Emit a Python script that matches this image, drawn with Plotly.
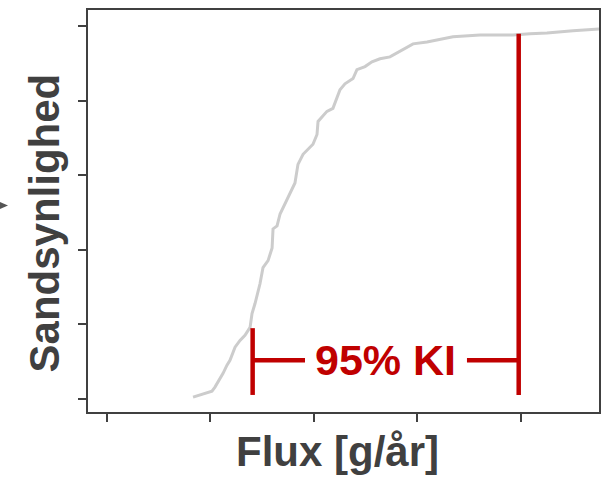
import plotly.graph_objects as go

# ECDF-like curve (arbitrary flux units, probability 0..1)
flux = [0.834, 1.017, 1.046, 1.124, 1.162, 1.191, 1.240, 1.288, 1.336, 1.385,
        1.404, 1.433, 1.481, 1.510, 1.559, 1.598, 1.607, 1.646, 1.675, 1.723,
        1.771, 1.819, 1.848, 1.897, 1.993, 2.032, 2.042, 2.128, 2.186, 2.225,
        2.254, 2.302, 2.380, 2.418, 2.496, 2.563, 2.641, 2.737, 2.786, 2.902,
        2.960, 3.095, 3.221, 3.346, 3.607, 3.926, 4.090, 4.254, 4.505, 4.757]
prob = [0.005, 0.021, 0.032, 0.069, 0.091, 0.104, 0.139, 0.157, 0.171, 0.192,
        0.229, 0.256, 0.309, 0.352, 0.371, 0.405, 0.456, 0.464, 0.496, 0.523,
        0.549, 0.579, 0.629, 0.656, 0.683, 0.709, 0.744, 0.771, 0.779, 0.805,
        0.829, 0.845, 0.859, 0.883, 0.891, 0.904, 0.912, 0.917, 0.925, 0.944,
        0.952, 0.957, 0.965, 0.971, 0.976, 0.976, 0.979, 0.981, 0.987, 0.992]

# confidence interval markers
ci_low = 1.41
ci_high = 3.981
ci_low_top = 0.19
ci_high_top = 0.979
ci_base = 0.011
ci_bar_y = 0.104
ci_gap = [1.916, 3.481]
ci_label = "95% KI"

x_ticks = [0, 1, 2, 3, 4]
y_ticks = [0, 0.2, 0.4, 0.6, 0.8, 1.0]

RED = "#C00000"
DARK = "#404040"
FONT = "Liberation Sans, Arial, sans-serif"

fig = go.Figure()
fig.add_trace(go.Scatter(x=flux, y=prob, mode="lines",
                         line=dict(color="#cccccc", width=3), hoverinfo="skip"))
# vertical bars
fig.add_trace(go.Scatter(x=[ci_low, ci_low], y=[ci_base, ci_low_top], mode="lines",
                         line=dict(color=RED, width=4.5), hoverinfo="skip"))
fig.add_trace(go.Scatter(x=[ci_high, ci_high], y=[ci_base, ci_high_top], mode="lines",
                         line=dict(color=RED, width=4.5), hoverinfo="skip"))
# horizontal arms
fig.add_trace(go.Scatter(x=[ci_low, ci_gap[0]], y=[ci_bar_y, ci_bar_y], mode="lines",
                         line=dict(color=RED, width=4.5), hoverinfo="skip"))
fig.add_trace(go.Scatter(x=[ci_gap[1], ci_high], y=[ci_bar_y, ci_bar_y], mode="lines",
                         line=dict(color=RED, width=4.5), hoverinfo="skip"))

fig.add_annotation(x=(ci_gap[0] + ci_gap[1]) / 2, y=ci_bar_y, xref="x", yref="y",
                   text="<b>%s</b>" % ci_label, showarrow=False,
                   font=dict(family=FONT, size=43, color=RED),
                   xanchor="center", yanchor="middle")

fig.add_annotation(x=0.489, y=-0.099, xref="paper", yref="paper",
                   text="<b>Flux [g/år]</b>", showarrow=False,
                   font=dict(family=FONT, size=42, color=DARK),
                   xanchor="center", yanchor="middle")
fig.add_annotation(x=-0.0861, y=0.469, xref="paper", yref="paper",
                   text="<b>Sandsynlighed</b>", showarrow=False, textangle=-90,
                   font=dict(family=FONT, size=42, color=DARK),
                   xanchor="center", yanchor="middle")

# small cropped arrow at far left
fig.add_shape(type="path", xref="paper", yref="paper",
              path="M -0.1722,0.5223 L -0.1566,0.5136 L -0.1722,0.505 Z",
              fillcolor="#555555", line=dict(width=0))

fig.update_layout(
    width=611, height=478,
    margin=dict(l=88, r=12, t=8, b=66),
    paper_bgcolor="white", plot_bgcolor="white",
    showlegend=False,
    xaxis=dict(range=[-0.181, 4.757], tickvals=x_ticks, showticklabels=False,
               ticks="outside", ticklen=8, tickwidth=1.5, tickcolor=DARK,
               showline=True, mirror=True, linecolor=DARK, linewidth=2,
               showgrid=False, zeroline=False, fixedrange=True),
    yaxis=dict(range=[-0.0347, 1.0427], tickvals=y_ticks, showticklabels=False,
               ticks="outside", ticklen=8, tickwidth=1.5, tickcolor=DARK,
               showline=True, mirror=True, linecolor=DARK, linewidth=2,
               showgrid=False, zeroline=False, fixedrange=True),
)

fig.write_html("out.html", config={"displayModeBar": False},
               post_script="document.body.style.margin='0';")
